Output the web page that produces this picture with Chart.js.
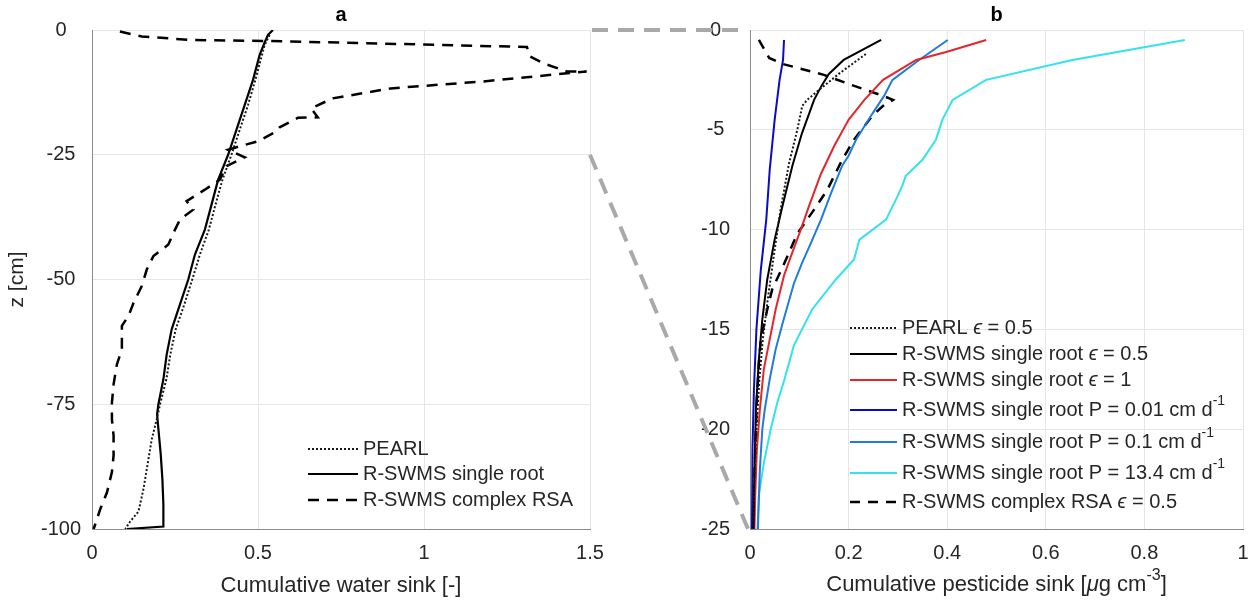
<!DOCTYPE html>
<html>
<head>
<meta charset="utf-8">
<script src="https://cdn.jsdelivr.net/npm/chart.js@4.4.1/dist/chart.umd.min.js"></script>
<style>
  html, body { margin: 0; padding: 0; background: #fff; }
  #wrap { position: relative; width: 1254px; height: 605px; }
  #chartA { position: absolute; left: 0; top: 0; }
  #chartB { position: absolute; left: 620px; top: 0; }
  #links { position: absolute; left: 0; top: 0; pointer-events: none; }
</style>
</head>
<body>
<div id="wrap">
  <canvas id="chartA" width="610" height="605"></canvas>
  <canvas id="chartB" width="634" height="605"></canvas>
  <canvas id="links" width="1254" height="605"></canvas>
</div>
<script>
// ---- panel a: cumulative water sink [-] vs depth z [cm] ----
const pearlZ_a    = [-1, -3, -6, -10, -15, -20, -25, -30, -35, -40, -45, -50, -55, -60, -65, -70, -75, -78, -82, -88, -92, -96.5, -98.5, -100];
const pearlSink_a = [0.535, 0.52, 0.508, 0.492, 0.47, 0.445, 0.42, 0.393, 0.372, 0.352, 0.325, 0.302, 0.278, 0.252, 0.236, 0.224, 0.205, 0.195, 0.18, 0.165, 0.155, 0.14, 0.115, 0.1];

const singleZ_a    = [0, -1, -2.5, -5, -10, -15, -20, -25, -30, -35, -40, -45, -50, -55, -60, -65, -70, -75, -77, -80, -85, -90, -95, -99.5, -100];
const singleSink_a = [0.545, 0.53, 0.52, 0.505, 0.485, 0.46, 0.435, 0.41, 0.38, 0.36, 0.34, 0.31, 0.29, 0.265, 0.24, 0.225, 0.215, 0.2, 0.196, 0.2, 0.207, 0.212, 0.215, 0.215, 0.105];

const complexZ_a    = [-0.3, -1.3, -2.0, -2.2, -2.6, -3.0, -3.4, -5.3, -6.7, -8.3, -8.3, -10.3, -11.7, -13.7, -15.7, -17.5, -17.6, -19.5, -20.5, -22.3, -23.3, -24, -25.5, -26, -27.3, -30, -32, -34.3, -36, -38, -40.7, -43, -45.3, -48, -51.3, -54.7, -57.3, -59.3, -64, -67, -71, -74.7, -78, -81.3, -85.3, -88.6, -92.7, -96, -99, -100];
const complexSink_a = [0.084, 0.15, 0.3, 0.53, 0.8, 1.05, 1.31, 1.32, 1.36, 1.43, 1.49, 1.18, 0.9, 0.725, 0.66, 0.68, 0.62, 0.565, 0.55, 0.5, 0.445, 0.41, 0.46, 0.445, 0.405, 0.385, 0.34, 0.285, 0.305, 0.265, 0.245, 0.23, 0.185, 0.165, 0.15, 0.125, 0.11, 0.09, 0.09, 0.075, 0.065, 0.06, 0.06, 0.065, 0.065, 0.06, 0.045, 0.025, 0.01, 0.005];

// ---- panel b: cumulative pesticide sink [ug cm-3] vs depth z [cm] ----
const pearlZ_b    = [-1.2, -2.2, -2.8, -3.5, -3.8, -5, -6.7, -9, -11, -13.5, -15.5, -17.5, -20, -22.5, -25];
const pearlSink_b = [0.235, 0.18, 0.15, 0.116, 0.106, 0.096, 0.079, 0.062, 0.05, 0.036, 0.026, 0.019, 0.013, 0.009, 0.007];

const eps05Z_b    = [-0.5, -1.5, -2.2, -2.8, -3.5, -5.2, -6.8, -8.8, -10.5, -12.5, -14.5, -16.5, -19, -22, -25];
const eps05Sink_b = [0.266, 0.19, 0.16, 0.145, 0.13, 0.105, 0.086, 0.066, 0.05, 0.035, 0.025, 0.018, 0.012, 0.009, 0.007];

const eps1Z_b    = [-0.5, -1.1, -1.5, -2.5, -3.5, -4.5, -5.8, -7.2, -8.8, -10, -11.2, -12.3, -14, -15.5, -17, -19, -21, -23, -25];
const eps1Sink_b = [0.479, 0.398, 0.337, 0.27, 0.232, 0.2, 0.171, 0.144, 0.12, 0.103, 0.085, 0.069, 0.052, 0.04, 0.028, 0.02, 0.014, 0.011, 0.009];

const p001Z_b    = [-0.5, -1.5, -2.5, -4.5, -7, -9.5, -12, -15, -18, -21, -25];
const p001Sink_b = [0.069, 0.067, 0.06, 0.05, 0.04, 0.033, 0.022, 0.013, 0.008, 0.005, 0.004];

const p01Z_b    = [-0.5, -1.5, -2.5, -3.3, -4.2, -5.5, -6.3, -6.8, -8.2, -9.5, -10.7, -11.7, -12.7, -14.7, -16, -17.5, -19, -20, -22, -25];
const p01Sink_b = [0.401, 0.343, 0.289, 0.272, 0.248, 0.215, 0.2, 0.187, 0.164, 0.144, 0.123, 0.105, 0.089, 0.066, 0.052, 0.04, 0.03, 0.025, 0.02, 0.016];

const p134Z_b    = [-0.5, -1.5, -2.5, -3.5, -4.5, -5.5, -6.5, -7.3, -7.8, -8.5, -9.5, -10.5, -11.5, -12.5, -14, -15.8, -17.5, -18.7, -20, -21.7, -23.3, -25];
const p134Sink_b = [0.882, 0.654, 0.479, 0.411, 0.39, 0.377, 0.35, 0.316, 0.309, 0.296, 0.276, 0.222, 0.211, 0.174, 0.126, 0.089, 0.07, 0.055, 0.042, 0.028, 0.018, 0.015];

const complexZ_b    = [-0.5, -1.4, -1.7, -2.25, -2.7, -3.3, -3.5, -3.8, -4.3, -5.5, -6.5, -8, -9, -10.2, -11.5, -13, -14, -15.5, -16.7, -18.5, -20, -22.5, -25];
const complexSink_b = [0.018, 0.039, 0.066, 0.15, 0.2, 0.27, 0.29, 0.27, 0.248, 0.211, 0.187, 0.157, 0.13, 0.096, 0.073, 0.045, 0.035, 0.022, 0.018, 0.014, 0.012, 0.009, 0.006];

const ticksX_a = [0, 0.5, 1, 1.5];
const ticksZ_a = [-100, -75, -50, -25, 0];
const ticksX_b = [0, 0.2, 0.4, 0.6, 0.8, 1];
const ticksZ_b = [-25, -20, -15, -10, -5, 0];

const FONT = '"Liberation Sans", Arial, Helvetica, sans-serif';
const TEXT = '#262626';
Chart.defaults.font.family = FONT;
Chart.defaults.color = TEXT;

function series(label, xs, zs, color, dash, width) {
  return {
    label: label,
    data: xs.map(function (v, i) { return { x: v, y: zs[i] }; }),
    borderColor: color,
    backgroundColor: color,
    borderDash: dash,
    borderWidth: width,
    showLine: true,
    pointRadius: 0,
    tension: 0
  };
}

// text with ^{...} superscripts; greek letters set in italic
function richParts(str) {
  const parts = [];
  const re = /\^\{([^}]*)\}/g;
  let last = 0, m;
  while ((m = re.exec(str))) {
    if (m.index > last) parts.push({ t: str.slice(last, m.index), sup: false });
    parts.push({ t: m[1], sup: true });
    last = re.lastIndex;
  }
  if (last < str.length) parts.push({ t: str.slice(last), sup: false });
  const out = [];
  parts.forEach(function (p) {
    p.t.split(/([ϵμ])/).forEach(function (s) {
      if (s) out.push({ t: s, sup: p.sup, it: /[ϵμ]/.test(s) });
    });
  });
  return out;
}

function drawRich(ctx, str, x, y, size, align) {
  const parts = richParts(str);
  const fontFor = function (p) {
    return (p.it ? 'italic ' : '') + (p.sup ? Math.round(size * 0.72) : size) + 'px ' + FONT;
  };
  let total = 0;
  parts.forEach(function (p) { ctx.font = fontFor(p); p.w = ctx.measureText(p.t).width; total += p.w; });
  let cx = align === 'center' ? x - total / 2 : x;
  ctx.save();
  ctx.fillStyle = TEXT;
  ctx.textAlign = 'left';
  ctx.textBaseline = 'middle';
  parts.forEach(function (p) {
    ctx.font = fontFor(p);
    ctx.fillText(p.t, cx, p.sup ? y - size * 0.42 : y);
    cx += p.w;
  });
  ctx.restore();
}

// legend sitting inside the plot, no frame
const insideLegend = {
  id: 'insideLegend',
  afterDraw: function (chart, args, opts) {
    const ctx = chart.ctx;
    chart.data.datasets.forEach(function (ds, i) {
      const y = opts.rows[i];
      ctx.save();
      ctx.strokeStyle = ds.borderColor;
      ctx.lineWidth = ds.borderWidth;
      ctx.setLineDash(ds.borderDash || []);
      ctx.beginPath();
      ctx.moveTo(opts.left, y);
      ctx.lineTo(opts.left + opts.sample, y);
      ctx.stroke();
      ctx.restore();
      drawRich(ctx, ds.label, opts.left + opts.sample + 5, y, opts.size, 'left');
    });
  }
};

// panel letter and optional rich x-axis title
const panelText = {
  id: 'panelText',
  afterDraw: function (chart, args, opts) {
    const ctx = chart.ctx;
    const a = chart.chartArea;
    const cx = (a.left + a.right) / 2;
    ctx.save();
    ctx.fillStyle = '#000';
    ctx.font = 'bold 20px ' + FONT;
    ctx.textAlign = 'center';
    ctx.textBaseline = 'alphabetic';
    ctx.fillText(opts.tag, cx, 21);
    ctx.restore();
    if (opts.xTitle) drawRich(ctx, opts.xTitle, cx, chart.height - 20, 22, 'center');
  }
};

function tickText(v) {
  return String(Math.round(v * 100) / 100);
}

function axes(xTicks, zTicks, yAxis, xTitle, zTitle) {
  return {
    x: {
      type: 'linear', min: xTicks[0], max: xTicks[xTicks.length - 1],
      afterBuildTicks: function (s) { s.ticks = xTicks.map(function (v) { return { value: v }; }); },
      afterFit: function (s) { s.height = 76; s.paddingLeft = 0; s.paddingRight = 0; },
      grid: { color: '#e6e6e6', drawTicks: false },
      border: { display: true, color: '#8c8c8c', width: 1 },
      ticks: { font: { size: 20 }, padding: 12, maxRotation: 0, color: TEXT, callback: tickText },
      title: { display: !!xTitle, text: xTitle, font: { size: 22 }, color: TEXT, padding: { top: 0, bottom: 6 } }
    },
    y: {
      type: 'linear', min: zTicks[0], max: zTicks[zTicks.length - 1],
      afterBuildTicks: function (s) { s.ticks = zTicks.map(function (v) { return { value: v }; }); },
      afterFit: function (s) { s.width = yAxis.width; s.paddingTop = 0; s.paddingBottom = 0; },
      grid: { color: '#e6e6e6', drawTicks: false },
      border: { display: true, color: '#8c8c8c', width: 1 },
      ticks: { font: { size: 20 }, padding: yAxis.pad, crossAlign: 'center', color: TEXT, callback: tickText },
      title: { display: !!zTitle, text: zTitle, font: { size: 21 }, color: TEXT, padding: { top: 5, bottom: 0 } }
    }
  };
}

const chartA = new Chart(document.getElementById('chartA'), {
  type: 'scatter',
  data: {
    datasets: [
      series('PEARL', pearlSink_a, pearlZ_a, '#1a1a1a', [2, 2], 2),
      series('R-SWMS single root', singleSink_a, singleZ_a, '#000', [], 2.2),
      series('R-SWMS complex RSA', complexSink_a, complexZ_a, '#000', [11, 8], 2.5)
    ]
  },
  options: {
    responsive: false,
    animation: false,
    layout: { padding: { left: 0, top: 30, right: 20, bottom: 0 } },
    scales: axes(ticksX_a, ticksZ_a, { width: 92, pad: 11 }, 'Cumulative water sink [-]', 'z [cm]'),
    plugins: {
      legend: { display: false },
      tooltip: { enabled: false },
      insideLegend: { left: 308, sample: 50, size: 20, rows: [449, 474, 500] },
      panelText: { tag: 'a' }
    }
  },
  plugins: [insideLegend, panelText]
});

const chartB = new Chart(document.getElementById('chartB'), {
  type: 'scatter',
  data: {
    datasets: [
      series('PEARL ϵ = 0.5', pearlSink_b, pearlZ_b, '#1a1a1a', [2, 2], 2),
      series('R-SWMS single root ϵ = 0.5', eps05Sink_b, eps05Z_b, '#000', [], 2),
      series('R-SWMS single root ϵ = 1', eps1Sink_b, eps1Z_b, '#e3262b', [], 2),
      series('R-SWMS single root P = 0.01 cm d^{-1}', p001Sink_b, p001Z_b, '#0b0bc4', [], 2),
      series('R-SWMS single root P = 0.1 cm d^{-1}', p01Sink_b, p01Z_b, '#1f7be0', [], 2),
      series('R-SWMS single root P = 13.4 cm d^{-1}', p134Sink_b, p134Z_b, '#33e2ea', [], 2),
      series('R-SWMS complex RSA ϵ = 0.5', complexSink_b, complexZ_b, '#000', [10, 8], 2.5)
    ]
  },
  options: {
    responsive: false,
    animation: false,
    layout: { padding: { left: 0, top: 30, right: 11, bottom: 0 } },
    scales: axes(ticksX_b, ticksZ_b, { width: 130, pad: 20 }, '', ''),
    plugins: {
      legend: { display: false },
      tooltip: { enabled: false },
      insideLegend: { left: 230, sample: 47, size: 20, rows: [328, 354, 380, 410, 442, 473, 502] },
      panelText: { tag: 'b', xTitle: 'Cumulative pesticide sink [μg cm^{-3}]' }
    }
  },
  plugins: [insideLegend, panelText]
});

// grey zoom lines linking the top 25 cm of panel a to panel b
(function () {
  const ctx = document.getElementById('links').getContext('2d');
  const ax = chartA.scales.x, az = chartA.scales.y;
  const offB = 620;
  const b = chartB.chartArea;
  const x0 = ax.getPixelForValue(1.5);
  ctx.strokeStyle = '#a9a9a9';
  ctx.lineWidth = 4;
  ctx.setLineDash([16, 10]);
  ctx.beginPath();
  ctx.moveTo(x0 + 2, az.getPixelForValue(0));
  ctx.lineTo(offB + b.left - 3, b.top);
  ctx.stroke();
  ctx.beginPath();
  ctx.moveTo(x0, az.getPixelForValue(-25));
  ctx.lineTo(offB + b.left - 2, b.bottom);
  ctx.stroke();
})();
</script>
</body>
</html>
